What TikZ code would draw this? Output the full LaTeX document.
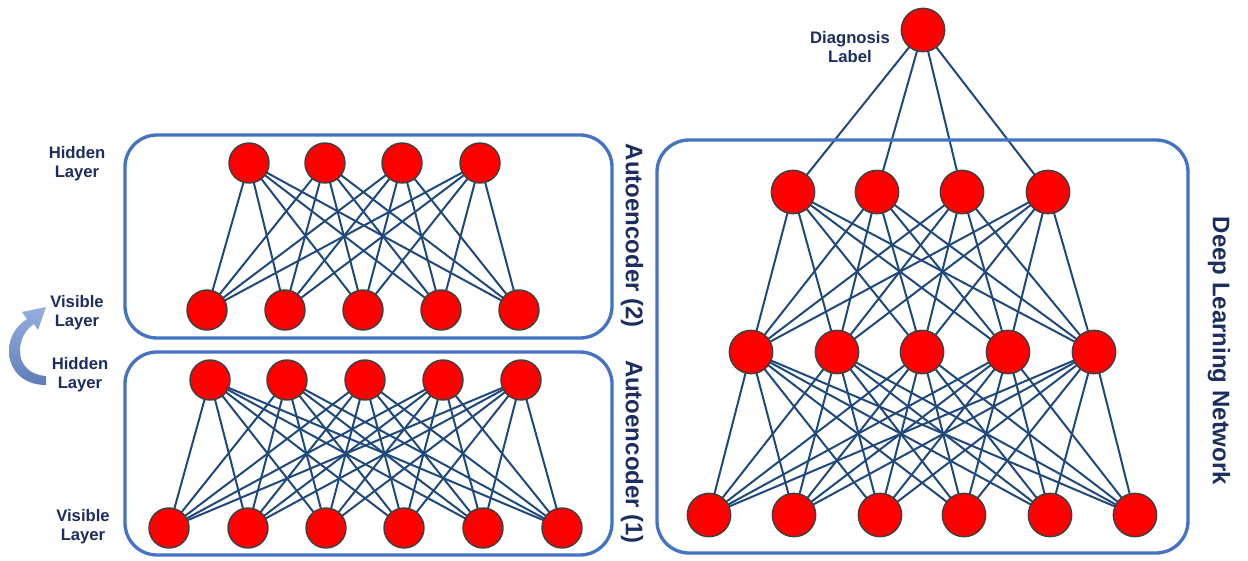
\documentclass[tikz,border=0pt]{standalone}
\usepackage{fontspec}
\setmainfont{Liberation Sans}
\usepackage{xcolor}
\definecolor{colorLink}{RGB}{31,73,125}
\definecolor{colorFrame}{RGB}{68,114,196}
\definecolor{colorRim}{RGB}{64,64,64}
\definecolor{colorText}{RGB}{28,45,95}
\definecolor{colorSwapTop}{RGB}{150,175,222}
\definecolor{colorSwapLow}{RGB}{95,125,185}
\usepackage{tikz}
\usetikzlibrary{arrows.meta, positioning, backgrounds}
\tikzset{
  neuron/.style={circle, fill=red, draw=colorRim, line width=1.1pt, minimum size=30pt, inner sep=0pt},
  bigneuron/.style={neuron, minimum size=32.5pt},
  link/.style={draw=colorLink, line width=1.5pt},
  aebox/.style={draw=colorFrame, line width=2.5pt, rounded corners=24pt},
  lbl/.style={align=center, text=colorText, font=\bfseries\fontsize{12.5}{14.5}\selectfont},
  title/.style={text=colorText, font=\bfseries\fontsize{18}{20}\selectfont, rotate=-90}
}

\begin{document}
\begin{tikzpicture}[x=0.75pt, y=-0.75pt]
\useasboundingbox (0,0) rectangle (1248,560);

% frames
\draw[aebox] (125,135) rectangle (612,338);
\draw[aebox] (125,352) rectangle (612,555);
\draw[aebox] (657,140) rectangle (1188,553);

% autoencoder (2)
\foreach \x [count=\i] in {249,325,402,480} \node[neuron] (hB\i) at (\x,163) {};
\foreach \x [count=\i] in {207,285,363,441,519} \node[neuron] (vB\i) at (\x,310) {};
% autoencoder (1)
\foreach \x [count=\i] in {210,287,365,443,521} \node[neuron] (hA\i) at (\x,380) {};
\foreach \x [count=\i] in {169,248,326,404,483,562} \node[neuron] (vA\i) at (\x,528) {};
% deep network
\node[bigneuron] (dOut) at (923,30) {};
\foreach \x [count=\i] in {793,877,962,1048} \node[bigneuron] (dC\i) at (\x,192) {};
\foreach \x [count=\i] in {751,837,922,1008,1094} \node[bigneuron] (dB\i) at (\x,352) {};
\foreach \x [count=\i] in {709,794,880,964,1050,1135} \node[bigneuron] (dA\i) at (\x,515) {};

\begin{scope}[on background layer]
\foreach \i in {1,...,4} \foreach \j in {1,...,5} \draw[link] (hB\i.center) -- (vB\j.center);
\foreach \i in {1,...,5} \foreach \j in {1,...,6} \draw[link] (hA\i.center) -- (vA\j.center);
\foreach \i in {1,...,4} \draw[link] (dOut.center) -- (dC\i.center);
\foreach \i in {1,...,4} \foreach \j in {1,...,5} \draw[link] (dC\i.center) -- (dB\j.center);
\foreach \i in {1,...,5} \foreach \j in {1,...,6} \draw[link] (dB\i.center) -- (dA\j.center);
\end{scope}

% labels
\node[lbl] (lblHB) at (77,164) {Hidden\\Layer};
\node[lbl] (lblVB) at (77,313) {Visible\\Layer};
\node[lbl] (lblHA) at (80,375) {Hidden\\Layer};
\node[lbl] (lblVA) at (83,527) {Visible\\Layer};
\node[lbl] (lblOut) at (850,47) {Diagnosis\\Label};
\node[title] (ttlB) at (632,236) {Autoencoder (2)};
\node[title] (ttlA) at (632,452) {Autoencoder (1)};
\node[title] (ttlD) at (1219,351) {Deep Learning Network};

% swap arrow
\shade[top color=colorSwapTop, bottom color=colorSwapLow]
  (46,385) .. controls (22,385) and (9,369) .. (9,351)
  .. controls (9,337) and (16,326) .. (27,319)
  -- (22,312) -- (46,307) -- (38,330) -- (34,324)
  .. controls (25,330) and (20,340) .. (20,351)
  .. controls (20,365) and (30,375) .. (46,376) -- cycle;
\end{tikzpicture}
\end{document}
